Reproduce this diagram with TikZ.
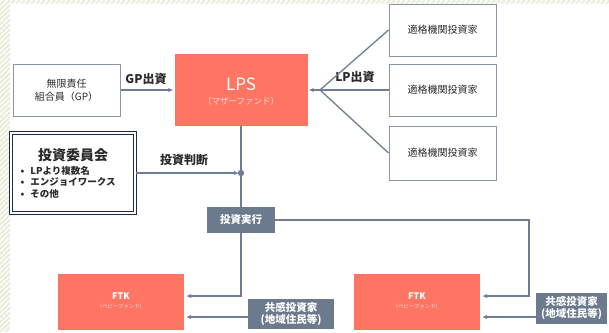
\documentclass[tikz,border=0pt]{standalone}
\usepackage{fontspec}
\setmainfont{Noto Sans CJK JP}
\usetikzlibrary{arrows.meta}
\definecolor{salmon}{HTML}{FF7563}
\definecolor{slate}{HTML}{6C7A8E}
\definecolor{lnc}{HTML}{6F7E94}
\definecolor{boxb}{HTML}{8A95A9}
\definecolor{navy}{HTML}{1F2D4D}
\definecolor{txt}{HTML}{2B2B2B}
\definecolor{hatch}{HTML}{E9ECD9}
\definecolor{pinkt}{HTML}{FFDDD6}
\tikzset{
  plainbox/.style={draw=boxb, line width=1pt, fill=white, text=txt, align=center, font=\fontsize{10}{13}\selectfont},
  fundbox/.style={fill=salmon, draw=none, text=white, align=center},
  slatebox/.style={fill=slate, draw=none, text=white, align=center, inner sep=1pt, font=\bfseries\fontsize{10.5}{12}\selectfont},
  conn/.style={draw=lnc, line width=1.5pt},
  arr/.style={conn, -{Latex[length=5pt,width=4.5pt]}},
  lbl/.style={text=txt, font=\bfseries\fontsize{12}{14}\selectfont}
}
\begin{document}
\begin{tikzpicture}[x=1pt,y=-1pt]
\useasboundingbox (0,0) rectangle (609,332);
\fill[white] (0,0) rectangle (609,332);
% hatched border bands
\begin{scope}
\clip (0,0) rectangle (609,3.5) (0,0) rectangle (10,332);
\foreach \i in {0,5,...,960} {
  \draw[hatch, line width=2pt] (\i-340,332) -- (\i,0);
}
\end{scope}
% nodes
\node[plainbox, minimum width=107pt, minimum height=52pt] (gp) at (66.5,90) {無限責任\\組合員（GP）};
\node[fundbox, minimum width=133pt, minimum height=72pt] (lps) at (241,90) {};
\node[text=white, font=\fontsize{17}{18}\selectfont] (lpst) at (241,84) {LPS};
\node[text=pinkt, font=\fontsize{8.5}{9}\selectfont] (lpss) at (241,101) {（マザーファンド）};
\node[plainbox, minimum width=107pt, minimum height=52pt] (inv1) at (442.5,30) {適格機関投資家};
\node[plainbox, minimum width=107pt, minimum height=52pt] (inv2) at (442.5,90) {適格機関投資家};
\node[plainbox, minimum width=107pt, minimum height=54pt] (inv3) at (442.5,153) {適格機関投資家};
\coordinate (hub) at (320,90);
\node[draw=navy, double=white, double distance=1.6pt, line width=1.3pt, fill=white, minimum width=124pt, minimum height=80pt] (cm) at (73,173) {};
\node[text=txt, font=\bfseries\fontsize{14}{16}\selectfont] (cmt) at (73,155) {投資委員会};
\node[text=txt, anchor=west, align=left, font=\bfseries\fontsize{9.5}{11.5}\selectfont] (cml) at (17,182) {•\hspace{6pt}LPより複数名\\•\hspace{6pt}エンジョイワークス\\•\hspace{6pt}その他};
\node[slatebox, minimum width=68pt, minimum height=26pt] (exec) at (241,220) {投資実行};
\node[fundbox, minimum width=126pt, minimum height=56pt] (ftk1) at (121,302) {};
\node[fundbox, minimum width=126pt, minimum height=56pt] (ftk2) at (417,302) {};
\node[text=white, font=\bfseries\fontsize{9}{10}\selectfont] (ftk1t) at (121,296) {FTK};
\node[text=pinkt, font=\fontsize{5.4}{6}\selectfont] (ftk1s) at (121,306) {（ベビーファンド）};
\node[text=white, font=\bfseries\fontsize{9}{10}\selectfont] (ftk2t) at (417,296) {FTK};
\node[text=pinkt, font=\fontsize{5.4}{6}\selectfont] (ftk2s) at (417,306) {（ベビーファンド）};
\node[slatebox, minimum width=86pt, minimum height=30pt] (emp1) at (291,314) {共感投資家\\(地域住民等)};
\node[slatebox, minimum width=71pt, minimum height=31pt] (emp2) at (571.5,308.5) {共感投資家\\(地域住民等)};
% labels
\node[lbl] (gpl) at (146,79) {GP出資};
\node[lbl] (lpl) at (355,77) {LP出資};
\node[lbl] (jdl) at (184,160) {投資判断};
% connectors
\draw[arr, shorten >=1pt] (gp) -- (lps);
\draw[conn, line width=1.3pt] (hub) -- (inv1.west);
\draw[conn, line width=1.3pt] (hub) -- (inv2.west);
\draw[conn, line width=1.3pt] (hub) -- (inv3.west);
\draw[arr, shorten >=1pt] (hub) -- (lps.east);
\coordinate (dot) at (241,173);
\draw[conn] (lps.south) -- (exec.north);
\draw[arr, shorten >=2pt] (cm.east |- dot) -- (dot);
\fill[lnc] (dot) circle (3.2pt);
\coordinate (r1) at (529,296);
\coordinate (l1) at (241,296);
\coordinate (e1) at (0,317);
\draw[arr, shorten >=2pt] (exec.east) -| (r1) -- (r1 -| ftk2.east);
\draw[arr, shorten >=2pt] (exec.south) -- (l1) -- (l1 -| ftk1.east);
\draw[arr, shorten >=2pt] (e1 -| emp1.west) -- (e1 -| ftk1.east);
\draw[arr, shorten >=2pt] (e1 -| emp2.west) -- (e1 -| ftk2.east);
\end{tikzpicture}
\end{document}
